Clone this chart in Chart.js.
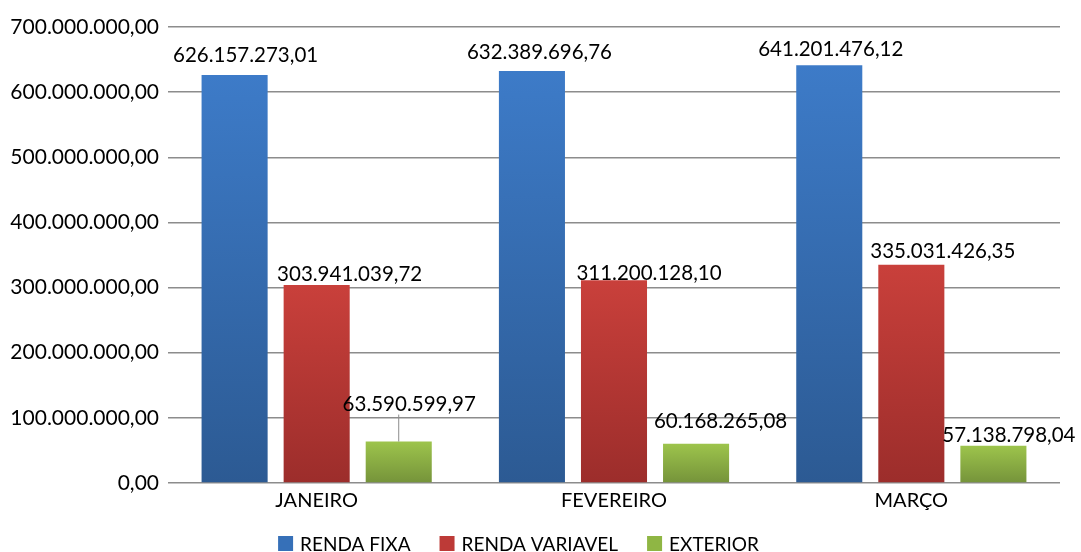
<!DOCTYPE html>
<html>
<head>
<meta charset="utf-8">
<script src="https://cdn.jsdelivr.net/npm/chart.js@4.4.1/dist/chart.umd.min.js"></script>
<style>
  html, body { margin: 0; padding: 0; background: #fff; }
  #wrap { width: 1081px; height: 552px; position: relative; }
</style>
</head>
<body>
<div id="wrap"><canvas id="c" width="1081" height="552"></canvas></div>
<script>
// ---- data ----
const categories = ['JANEIRO', 'FEVEREIRO', 'MARÇO'];
const seriesNames = ['RENDA FIXA', 'RENDA VARIAVEL', 'EXTERIOR'];
const rendaFixa = [626157273.01, 632389696.76, 641201476.12];
const rendaVariavel = [303941039.72, 311200128.10, 335031426.35];
const exterior = [63590599.97, 60168265.08, 57138798.04];
const yTicks = [0, 100000000, 200000000, 300000000, 400000000, 500000000, 600000000, 700000000];

// ---- styles ----
const colorsTop = ['#3d7bc8', '#c9403b', '#9dc44c'];
const colorsBottom = ['#2c5a93', '#9c2d2b', '#75933a'];
const colorsLegend = ['#3670b8', '#bd3a37', '#8fb644'];
// label placement: [dx from bar centre, dy from bar top] per dataset/point
const labelOffsets = [
  [[11, -13], [7.5, -12.5], [1.5, -9]],
  [[33, -4], [35, 0], [31.5, -7]],
  [[10.5, -31], [24.5, -16], [15.5, -3.5]]
];
const leaderLines = [[false, false, false], [false, false, false], [true, false, false]];

function fmtBR(v) {
  const neg = v < 0; v = Math.abs(v);
  const s = v.toFixed(2);
  let [intPart, dec] = s.split('.');
  intPart = intPart.replace(/\B(?=(\d{3})+(?!\d))/g, '.');
  return (neg ? '-' : '') + intPart + ',' + dec;
}

function barFill(i) {
  return function (ctx) {
    if (ctx.type !== 'data') return colorsLegend[i];
    const chart = ctx.chart;
    const ys = chart.scales && chart.scales.y;
    if (!chart.chartArea || !ys) return colorsLegend[i];
    const top = ys.getPixelForValue(ctx.raw);
    const bottom = ys.getPixelForValue(0);
    if (!isFinite(top) || !isFinite(bottom) || top === bottom) return colorsLegend[i];
    const g = chart.ctx.createLinearGradient(0, top, 0, bottom);
    g.addColorStop(0, colorsTop[i]);
    g.addColorStop(1, colorsBottom[i]);
    return g;
  };
}

const labelPlugin = {
  id: 'valueLabels',
  afterDatasetsDraw(chart) {
    const ctx = chart.ctx;
    ctx.save();
    ctx.font = '20.5px Lato';
    ctx.fillStyle = '#000';
    ctx.textAlign = 'center';
    ctx.textBaseline = 'alphabetic';
    chart.data.datasets.forEach((ds, i) => {
      const meta = chart.getDatasetMeta(i);
      meta.data.forEach((el, j) => {
        const off = labelOffsets[i][j];
        const x = el.x + off[0];
        const y = el.y + off[1];
        if (leaderLines[i][j]) {
          ctx.save();
          ctx.strokeStyle = '#8c8c8c';
          ctx.lineWidth = 1;
          ctx.beginPath();
          ctx.moveTo(el.x, y + 4);
          ctx.lineTo(el.x, el.y);
          ctx.stroke();
          ctx.restore();
        }
        ctx.fillText(fmtBR(ds.data[j]), x, y);
      });
    });
    ctx.restore();
  }
};

const legendPlugin = {
  id: 'customLegend',
  afterDraw(chart) {
    const ctx = chart.ctx;
    ctx.save();
    ctx.font = '19px Lato';
    ctx.textBaseline = 'middle';
    ctx.textAlign = 'left';
    const box = 15, gapText = 7, gapItem = 29, centreX = 518.5, cy = 543.5;
    const widths = seriesNames.map(n => box + gapText + ctx.measureText(n).width);
    const total = widths.reduce((a, b) => a + b, 0) + gapItem * (seriesNames.length - 1);
    let x = centreX - total / 2;
    seriesNames.forEach((n, i) => {
      ctx.fillStyle = colorsLegend[i];
      ctx.fillRect(x, cy - box / 2, box, box);
      ctx.fillStyle = '#000';
      ctx.fillText(n, x + box + gapText, cy + 1);
      x += widths[i] + gapItem;
    });
    ctx.restore();
  }
};

const seriesData = [rendaFixa, rendaVariavel, exterior];

new Chart(document.getElementById('c'), {
  type: 'bar',
  data: {
    labels: categories,
    datasets: seriesNames.map((n, i) => ({
      label: n,
      data: seriesData[i],
      backgroundColor: barFill(i),
      borderWidth: 0,
      barPercentage: 0.805,
      categoryPercentage: 0.828
    }))
  },
  options: {
    responsive: false,
    animation: false,
    devicePixelRatio: 1,
    layout: { padding: { top: 27, right: 21, left: 0, bottom: 33 } },
    plugins: {
      tooltip: { enabled: false },
      legend: { display: false }
    },
    scales: {
      x: {
        grid: { display: false, drawTicks: false },
        border: { display: false },
        ticks: { font: { family: 'Lato', size: 20 }, color: '#000', padding: 6 }
      },
      y: {
        min: 0,
        max: 700000000,
        afterBuildTicks(scale) { scale.ticks = yTicks.map(v => ({ value: v })); },
        afterFit(scale) { scale.width = 168; },
        grid: { color: '#8c8c8c', lineWidth: 1.5, drawTicks: false },
        border: { display: false },
        ticks: {
          font: { family: 'Lato', size: 21 },
          color: '#000',
          padding: 9,
          callback: (v) => fmtBR(v)
        }
      }
    }
  },
  plugins: [labelPlugin, legendPlugin]
});
</script>
</body>
</html>
